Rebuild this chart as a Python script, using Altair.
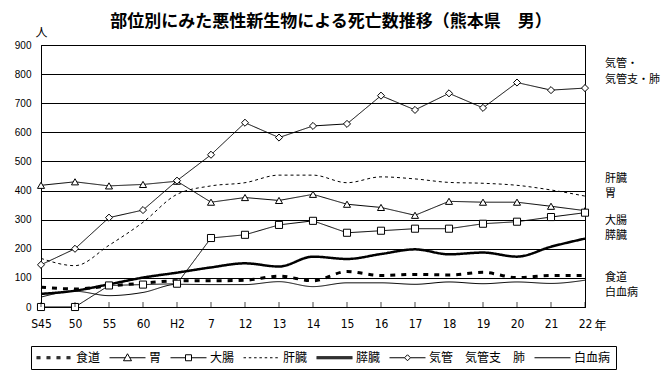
import altair as alt
import pandas as pd

years = ["S45", "50", "55", "60", "H2", "7", "12", "13", "14", "15", "16", "17", "18", "19", "20", "21", "22"]

series_names = ["食道", "胃", "大腸", "肝臓", "膵臓", "気管　気管支　肺", "白血病"]

esophagus = [68, 62, 72, 82, 90, 90, 92, 106, 90, 122, 108, 112, 110, 119, 101, 108, 108]
stomach = [418, 430, 416, 421, 432, 360, 376, 366, 387, 353, 342, 315, 363, 360, 360, 346, 331]
colon = [0, 0, 74, 77, 80, 237, 248, 282, 296, 255, 262, 269, 269, 286, 293, 309, 324]
liver = [167, 142, 212, 291, 387, 416, 427, 453, 453, 427, 447, 440, 428, 425, 418, 402, 381]
pancreas = [45, 56, 78, 101, 118, 136, 150, 139, 173, 165, 182, 198, 181, 187, 173, 207, 235]
lung = [145, 200, 307, 333, 434, 523, 633, 582, 622, 629, 726, 677, 734, 684, 771, 745, 752]
leukemia = [34, 54, 39, 50, 78, 77, 77, 87, 70, 83, 83, 78, 86, 80, 86, 81, 92]

label_texts = ["気管・", "気管支・肺", "肝臓", "胃", "大腸", "膵臓", "食道", "白血病"]
label_values = [835, 780, 440, 388, 296, 244, 100, 48]

title_text = "部位別にみた悪性新生物による死亡数推移（熊本県　男）"

all_values = [esophagus, stomach, colon, liver, pancreas, lung, leukemia]
rows = []
for name, vals in zip(series_names, all_values):
    for yr, v in zip(years, vals):
        rows.append({"series": name, "year": yr, "value": v})
df = pd.DataFrame(rows)

marker_series = ["胃", "大腸", "気管　気管支　肺"]
smooth_series = ["食道", "肝臓", "膵臓", "白血病"]

labels_df = pd.DataFrame({"year": ["22"] * len(label_texts), "value": label_values, "text": label_texts})
ticks_df = pd.DataFrame({"year": years, "value": [0] * len(years)})

JP = "Noto Sans CJK JP"
NUM = "Liberation Sans"

W, H = 544, 262

x_enc = alt.X(
    "year:O", sort=years,
    scale=alt.Scale(type="point", padding=0),
    axis=alt.Axis(
        title="年", labelAngle=0, ticks=False, labelPadding=11,
        labelFont="Liberation Sans Narrow, DejaVu Sans Condensed, Liberation Sans", labelFontSize=12,
        labelColor="black", domainColor="black",
        titleAngle=0, titleX=W + 15, titleY=18, titleAlign="center", titleBaseline="middle",
        titleFont=JP, titleFontSize=12, titleFontWeight="normal", titleColor="black",
    ),
)
y_enc = alt.Y(
    "value:Q",
    scale=alt.Scale(domain=[0, 900], nice=False, zero=True),
    axis=alt.Axis(
        values=list(range(0, 901, 100)), grid=True, gridColor="black", gridOpacity=1, gridWidth=1,
        ticks=False, labelPadding=10, labelFont=NUM, labelFontSize=10, labelColor="black",
        domainColor="black", labelOverlap=False,
        title="人", titleAngle=0, titleX=0, titleY=-13, titleAlign="center", titleBaseline="middle",
        titleFont=JP, titleFontSize=12, titleFontWeight="normal", titleColor="black",
    ),
)

dash_scale = alt.Scale(
    type="ordinal", domain=series_names,
    range=[[5, 6], [1, 0], [1, 0], [3, 3], [1, 0], [1, 0], [1, 0]],
)
width_scale = alt.Scale(type="ordinal", domain=series_names, range=[3, 1, 1, 1, 2.5, 1, 1])

base = alt.Chart(df)

lines_straight = base.transform_filter(
    alt.FieldOneOfPredicate(field="series", oneOf=marker_series)
).mark_line(color="black", interpolate="linear").encode(
    x=x_enc, y=y_enc,
    detail="series:N",
    strokeDash=alt.StrokeDash("series:N", scale=dash_scale, legend=None),
    strokeWidth=alt.StrokeWidth("series:N", scale=width_scale, legend=None),
)

lines_smooth = base.transform_filter(
    alt.FieldOneOfPredicate(field="series", oneOf=smooth_series)
).mark_line(color="black", interpolate="monotone").encode(
    x=x_enc, y=y_enc,
    detail="series:N",
    strokeDash=alt.StrokeDash("series:N", scale=dash_scale, legend=None),
    strokeWidth=alt.StrokeWidth("series:N", scale=width_scale, legend=None),
)

points = base.transform_filter(
    alt.FieldOneOfPredicate(field="series", oneOf=marker_series)
).mark_point(filled=False, fill="white", fillOpacity=1, stroke="black", strokeWidth=1, opacity=1, size=50).encode(
    x=x_enc, y=y_enc,
    shape=alt.Shape("series:N", scale=alt.Scale(domain=marker_series, range=["triangle-up", "square", "diamond"]), legend=None),
)


# legend symbol paths; the layout box is [-1,1] (12 px), the drawing runs to the right of it
U = 6.0  # px per unit at symbolSize 144


def px(v):
    return v / U


def seg(x0, x1, y=0.0):
    return f"M{px(x0):.3f},{px(y):.3f}L{px(x1):.3f},{px(y):.3f}"


def thick(x0, x1, t=1.0):
    return seg(x0, x1, -t) + seg(x0, x1, 0) + seg(x0, x1, t)


def poly(pts):
    return "M" + "L".join(f"{px(a):.3f},{px(b):.3f}" for a, b in pts) + "Z"


S0, S1 = -6, 30  # sample line from -6 px to +30 px around the symbol centre
MID = (S0 + S1) / 2
p_eso = "".join(thick(S0 + i * 10, S0 + i * 10 + 4) for i in range(4))
p_sto = seg(S0, MID - 2.5) + seg(MID + 2.5, S1) + poly([(MID, -4), (MID + 4, 3), (MID - 4, 3)])
p_col = seg(S0, MID - 3) + seg(MID + 3, S1) + poly([(MID - 3, -3), (MID + 3, -3), (MID + 3, 3), (MID - 3, 3)])
p_liv = "".join(seg(S0 + i * 5.3, S0 + i * 5.3 + 2.5) for i in range(7))
p_pan = thick(S0, S1)
p_lun = seg(S0, MID - 3) + seg(MID + 3, S1) + poly([(MID, -3), (MID + 3, 0), (MID, 3), (MID - 3, 0)])
p_leu = seg(S0, S1)
legend_paths = [p_eso, p_sto, p_col, p_liv, p_pan, p_lun, p_leu]

legend_layer = base.mark_point(opacity=0, stroke="black", strokeWidth=1).encode(
    x=x_enc, y=y_enc,
    shape=alt.Shape(
        "series:N",
        scale=alt.Scale(domain=series_names, range=legend_paths),
        legend=alt.Legend(
            title=None, orient="none", legendX=-10, legendY=301, direction="horizontal", columns=7,
            symbolSize=144, symbolStrokeWidth=1, symbolStrokeColor="black", symbolFillColor="white",
            symbolOpacity=1, labelFont=JP, labelFontSize=12, labelColor="black", labelOffset=S1 + 3 - 6,
            columnPadding=6, padding=5, strokeColor="black", labelLimit=200,
        ),
    ),
)

ticks = alt.Chart(ticks_df).mark_tick(
    orient="vertical", size=5, thickness=1, color="black", yOffset=-2.5
).encode(x=x_enc, y=y_enc)

right_labels = alt.Chart(labels_df).mark_text(
    align="left", baseline="middle", dx=20, font=JP, fontSize=11, color="black"
).encode(x=x_enc, y=y_enc, text="text:N")

chart = alt.layer(
    lines_smooth, lines_straight, points, ticks, right_labels, legend_layer
).resolve_scale(shape="independent").properties(
    width=W, height=H,
    title=alt.TitleParams(
        title_text, font=JP, fontSize=17, fontWeight="bold", anchor="middle", dx=18, offset=-5, color="black"
    ),
    padding={"left": 33, "top": 37, "right": 78, "bottom": 71},
    autosize=alt.AutoSizeParams(type="none"),
    background="white",
).configure_view(stroke="black", strokeWidth=1)

chart.save("out.html", embed_options={"renderer": "svg", "actions": False})
